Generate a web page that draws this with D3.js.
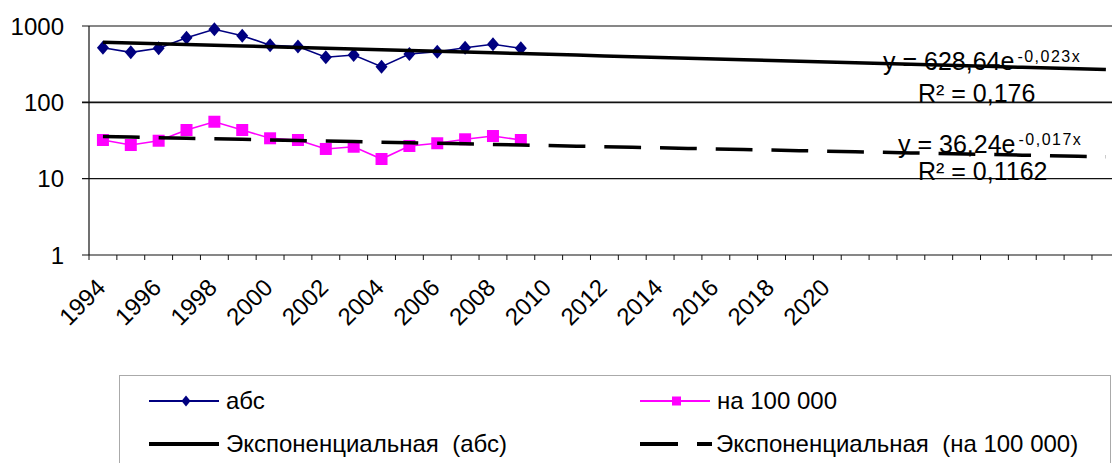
<!DOCTYPE html>
<html>
<head>
<meta charset="utf-8">
<script src="https://cdn.jsdelivr.net/npm/d3@7"></script>
<style>
  body { margin: 0; background: #fff; }
  text { font-family: "Liberation Sans", Arial, sans-serif; fill: #000; white-space: pre; }
</style>
</head>
<body>
<div id="chart"></div>
<script>
// categories: labelled years, then empty forecast slots of the trendlines
var years = ["1994", "1995", "1996", "1997", "1998", "1999", "2000", "2001", "2002", "2003",
             "2004", "2005", "2006", "2007", "2008", "2009", "2010", "2011", "2012", "2013",
             "2014", "2015", "2016", "2017", "2018", "2019", "2020", "2021",
             "", "", "", "", "", "", "", "", ""];
var absValues = [520, 452, 510, 700, 906, 747, 560, 540, 389, 417, 293, 430, 461, 520, 576, 510];
var per100kValues = [32.1, 27.6, 31.4, 43.4, 55.7, 43.4, 33.8, 32.1, 24.5, 26.2, 18.1, 26.8, 29.1, 32.8, 36.2, 32.1];
var yTicks = [1, 10, 100, 1000];
// exponential trendlines y = a * e^(b*x), x = 1..n
var trendAbs = {a: 628.64, b: -0.023, eq: "y = 628,64e", exp: "-0,023x", r2: "R² = 0,176"};
var trend100k = {a: 36.24, b: -0.017, eq: "y = 36,24e", exp: "-0,017x", r2: "R² = 0,1162"};
var legendLabels = ["абс", "на 100 000", "Экспоненциальная  (абс)", "Экспоненциальная  (на 100 000)"];

var W = 1112, H = 463;
var plotLeft = 89, plotTop = 26, plotBottom = 255;
var step = 27.86;

var svg = d3.select("#chart").append("svg")
    .attr("width", W)
    .attr("height", H);

// Scales
var x = d3.scaleBand()
    .domain(d3.range(years.length))
    .range([plotLeft, plotLeft + step * years.length])
    .padding(0);
var y = d3.scaleLog()
    .domain([1, 1000])
    .range([plotBottom, plotTop]);
var cx = function (i) { return x(i) + x.bandwidth() / 2; };

// gridlines
svg.selectAll(".grid")
    .data(yTicks)
    .enter().append("line")
    .attr("x1", plotLeft - 7)
    .attr("x2", W + 10)
    .attr("y1", function (d) { return y(d); })
    .attr("y2", function (d) { return y(d); })
    .attr("stroke", "#111")
    .attr("stroke-width", function (d) { return d === 100 ? 1.6 : 1.1; });

// y axis line + labels
svg.append("line")
    .attr("x1", plotLeft).attr("x2", plotLeft)
    .attr("y1", y(1000)).attr("y2", y(1))
    .attr("stroke", "#111").attr("stroke-width", 1.2);
svg.selectAll(".ylab")
    .data(yTicks)
    .enter().append("text")
    .attr("x", 64)
    .attr("y", function (d) { return y(d); })
    .attr("dy", "0.36em")
    .attr("text-anchor", "end")
    .style("font-size", "24px")
    .text(function (d) { return d; });

// x ticks between categories
var tickPos = d3.range(years.length + 1).map(function (i) { return plotLeft + i * x.bandwidth(); });
svg.selectAll(".xtick")
    .data(tickPos)
    .enter().append("line")
    .attr("x1", function (d) { return d; })
    .attr("x2", function (d) { return d; })
    .attr("y1", plotBottom)
    .attr("y2", plotBottom + 5)
    .attr("stroke", "#111");

// x labels, every second category
svg.selectAll(".xlab")
    .data(years.map(function (d, i) { return {t: d, i: i}; })
        .filter(function (d) { return d.t !== "" && d.i % 2 === 0; }))
    .enter().append("text")
    .attr("transform", function (d) { return "translate(" + (cx(d.i) + 4) + ",289) rotate(-45)"; })
    .attr("text-anchor", "end")
    .style("font-size", "24px")
    .text(function (d) { return d.t; });

// series lines
var line = d3.line()
    .x(function (d, i) { return cx(i); })
    .y(function (d) { return y(d); });

svg.append("path")
    .datum(absValues)
    .attr("d", line)
    .attr("fill", "none")
    .attr("stroke", "#000080")
    .attr("stroke-width", 1.6);
svg.append("path")
    .datum(per100kValues)
    .attr("d", line)
    .attr("fill", "none")
    .attr("stroke", "#ff00ff")
    .attr("stroke-width", 1.6);

var diamond = function (r) {
    return "M0," + (-r - 1) + "L" + r + ",0L0," + (r + 1) + "L" + (-r) + ",0Z";
};

svg.selectAll(".dia")
    .data(absValues)
    .enter().append("path")
    .attr("transform", function (d, i) { return "translate(" + cx(i) + "," + y(d) + ")"; })
    .attr("d", diamond(6))
    .attr("fill", "#000080");
svg.selectAll(".sq")
    .data(per100kValues)
    .enter().append("rect")
    .attr("x", function (d, i) { return cx(i) - 6; })
    .attr("y", function (d) { return y(d) - 6; })
    .attr("width", 12)
    .attr("height", 12)
    .attr("fill", "#ff00ff");

// trendlines
function trendPoints(t) {
    return d3.range(years.length).map(function (i) {
        return {i: i, v: t.a * Math.exp(t.b * (i + 1))};
    });
}
var tline = d3.line()
    .x(function (d) { return cx(d.i); })
    .y(function (d) { return y(d.v); });

svg.append("path")
    .datum(trendPoints(trendAbs))
    .attr("d", tline)
    .attr("fill", "none")
    .attr("stroke", "#000")
    .attr("stroke-width", 3.5);
svg.append("path")
    .datum(trendPoints(trend100k))
    .attr("d", tline)
    .attr("fill", "none")
    .attr("stroke", "#000")
    .attr("stroke-width", 3.5)
    .attr("stroke-dasharray", (2 * step * 0.66) + "," + (2 * step * 0.34));

// trendline equations
function equation(t, x0, yEq, yR2) {
    var eq = svg.append("text")
        .attr("x", x0)
        .attr("y", yEq)
        .style("font-size", "25px")
        .text(t.eq);
    eq.append("tspan")
        .attr("dy", -8)
        .attr("dx", 3)
        .style("font-size", "16px")
        .style("letter-spacing", "1.5px")
        .text(t.exp);
    svg.append("text")
        .attr("x", 918)
        .attr("y", yR2)
        .style("font-size", "25px")
        .text(t.r2);
}
equation(trendAbs, 883, 70, 102);
equation(trend100k, 898, 153, 180);

// legend
var lg = svg.append("g");
lg.append("rect")
    .attr("x", 119.5)
    .attr("y", 375.5)
    .attr("width", 991)
    .attr("height", 120)
    .attr("fill", "none")
    .attr("stroke", "#555")
    .attr("stroke-dasharray", "1,1");

var legendItems = [
    {x: 149, y: 401, color: "#000080", mark: "dia"},
    {x: 640, y: 401, color: "#ff00ff", mark: "sq"},
    {x: 149, y: 444, color: "#000", mark: "solid"},
    {x: 640, y: 444, color: "#000", mark: "dash"}
];
legendItems.forEach(function (d, k) {
    var g = lg.append("g").attr("transform", "translate(" + d.x + "," + d.y + ")");
    if (d.mark === "dia" || d.mark === "sq") {
        g.append("line").attr("x1", 0).attr("x2", 70)
            .attr("stroke", d.color).attr("stroke-width", 2);
        if (d.mark === "dia") {
            g.append("path").attr("transform", "translate(37,0)")
                .attr("d", diamond(4.5)).attr("fill", d.color);
        } else {
            g.append("rect").attr("x", 32).attr("y", -4.5)
                .attr("width", 9).attr("height", 9).attr("fill", d.color);
        }
    } else if (d.mark === "solid") {
        g.append("line").attr("x1", 0).attr("x2", 70)
            .attr("stroke", "#000").attr("stroke-width", 4);
    } else {
        g.append("line").attr("x1", 0).attr("x2", 38)
            .attr("stroke", "#000").attr("stroke-width", 4);
        g.append("line").attr("x1", 57).attr("x2", 72)
            .attr("stroke", "#000").attr("stroke-width", 4);
    }
    g.append("text")
        .attr("x", d.mark === "dash" ? 76 : 77)
        .attr("y", 0)
        .attr("dy", "0.35em")
        .style("font-size", "24px")
        .text(legendLabels[k]);
});
</script>
</body>
</html>
